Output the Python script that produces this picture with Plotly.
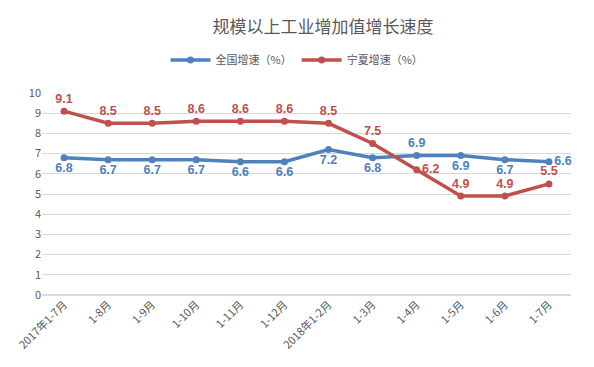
import plotly.graph_objects as go

categories = ["2017年1-7月", "1-8月", "1-9月", "1-10月", "1-11月", "1-12月",
              "2018年1-2月", "1-3月", "1-4月", "1-5月", "1-6月", "1-7月"]
national = [6.8, 6.7, 6.7, 6.7, 6.6, 6.6, 7.2, 6.8, 6.9, 6.9, 6.7, 6.6]
ningxia = [9.1, 8.5, 8.5, 8.6, 8.6, 8.6, 8.5, 7.5, 6.2, 4.9, 4.9, 5.5]

national_pos = ["bottom center"] * 8 + ["top center", "bottom center", "bottom center", "middle right"]
ningxia_pos = ["top center"] * 8 + ["middle right", "top center", "top center", "top center"]

BLUE = "#4F81BD"
RED = "#C0504D"
FONT = "Noto Sans CJK SC"

W, H = 586, 359  # page has an 8px body margin

fig = go.Figure()
fig.add_trace(go.Scatter(
    x=categories, y=national, name="全国增速（%）", mode="lines+markers+text",
    line=dict(color=BLUE, width=3.5), marker=dict(color=BLUE, size=7),
    text=[f"<b>{v:.1f}</b>" for v in national], textposition=national_pos,
    textfont=dict(color=BLUE, size=12.5, family="Liberation Sans"),
    cliponaxis=False,
))
fig.add_trace(go.Scatter(
    x=categories, y=ningxia, name="宁夏增速（%）", mode="lines+markers+text",
    line=dict(color=RED, width=3.5), marker=dict(color=RED, size=7),
    text=[f"<b>{v:.1f}</b>" for v in ningxia], textposition=ningxia_pos,
    textfont=dict(color=RED, size=12.5, family="Liberation Sans"),
    cliponaxis=False,
))

fig.update_layout(
    width=W, height=H,
    margin=dict(l=34, r=23, t=85, b=72, autoexpand=False),
    paper_bgcolor="white", plot_bgcolor="white",
    font=dict(family=FONT, color="#595959", size=11),
    title=dict(text="规模以上工业增加值增长速度", x=315 / W, xref="container",
               xanchor="center", y=1 - 19 / H, yref="container", yanchor="middle",
               font=dict(size=17, color="#595959", family=FONT)),
    legend=dict(orientation="h", x=289 / W, xref="container", xanchor="center",
                y=1 - 52 / H, yref="container", yanchor="middle",
                font=dict(size=11, color="#595959", family=FONT),
                itemwidth=40, tracegroupgap=0),
    showlegend=True,
    xaxis=dict(type="category", tickangle=-45, showgrid=False, showline=False,
               automargin=False, range=[-0.5, len(categories) - 0.5],
               ticks="", tickfont=dict(size=11, color="#595959", family=FONT)),
    yaxis=dict(range=[0, 10], dtick=1, showgrid=True, gridcolor="#D9D9D9",
               automargin=False,
               gridwidth=1, zeroline=True, zerolinecolor="#D9D9D9", showline=False,
               ticks="", tickfont=dict(size=11, color="#595959", family=FONT)),
)

fig.write_html("out.html")
